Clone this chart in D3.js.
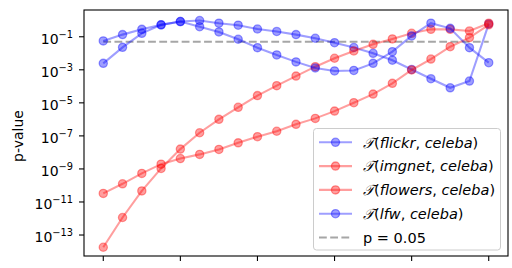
<!DOCTYPE html>
<html>
<head>
<meta charset="utf-8">
<script src="https://cdn.jsdelivr.net/npm/d3@7"></script>
<style>
  html, body { margin: 0; padding: 0; background: #fff; }
  svg { display: block; font-family: "DejaVu Sans", sans-serif; }
</style>
</head>
<body>
<div id="chart"></div>
<script>
// p-values per step (log10), 21 steps
const steps = d3.range(21);
const flickrLog = [-1.25, -0.87, -0.55, -0.28, -0.08, -0.02, -0.18, -0.30, -0.53, -0.68, -0.87, -1.09, -1.36, -1.65, -2.00, -2.42, -2.98, -3.54, -4.09, -3.68, -0.22];
const imgnetLog = [-13.74, -11.94, -10.33, -8.97, -7.80, -6.81, -6.00, -5.27, -4.56, -3.96, -3.38, -2.81, -2.30, -1.86, -1.46, -1.13, -0.79, -0.55, -0.55, -0.65, -0.18];
const flowersLog = [-10.48, -9.90, -9.27, -8.71, -8.37, -8.12, -7.82, -7.42, -7.05, -6.72, -6.30, -5.94, -5.50, -4.99, -4.47, -3.82, -3.01, -2.35, -1.60, -1.05, -0.28];
const lfwLog = [-2.61, -1.64, -0.79, -0.28, -0.08, -0.39, -0.71, -1.15, -1.66, -2.10, -2.52, -2.89, -3.07, -3.04, -2.61, -1.90, -0.95, -0.18, -0.49, -1.66, -2.57];
const yTickExp = [-1, -3, -5, -7, -9, -11, -13];
const xTicks = [0, 4, 8, 12, 16, 20];
const threshold = 0.05;

const series = [
  { name: 'flickr', color: 'blue', logs: flickrLog },
  { name: 'imgnet', color: 'red', logs: imgnetLog },
  { name: 'flowers', color: 'red', logs: flowersLog },
  { name: 'lfw', color: 'blue', logs: lfwLog },
];

const W = 512, H = 268;
const margin = { left: 84, top: 10, right: 4, bottom: 12 };
const innerW = W - margin.left - margin.right;
const innerH = H - margin.top - margin.bottom;
const ALPHA = 0.38;

const svg = d3.select('#chart').append('svg')
  .attr('width', W).attr('height', H)
  .attr('viewBox', `0 0 ${W} ${H}`);
const g = svg.append('g').attr('transform', `translate(${margin.left},${margin.top})`);

const x = d3.scaleLinear().domain([-1, 21]).range([0, innerW]);
const y = d3.scaleLog().domain([Math.pow(10, -14.27), Math.pow(10, 0.62)]).range([innerH, 0]);

// threshold line
g.append('line')
  .attr('x1', x(0)).attr('x2', x(20))
  .attr('y1', y(threshold)).attr('y2', y(threshold))
  .attr('stroke', 'gray').attr('stroke-opacity', 0.7)
  .attr('stroke-width', 2.1).attr('stroke-dasharray', '7.8,3.4');

const line = d3.line().x((d) => x(d.i)).y((d) => y(d.p));

series.forEach((s) => {
  const pts = s.logs.map((v, i) => ({ i: steps[i], p: Math.pow(10, v) }));
  g.append('path').datum(pts)
    .attr('d', line)
    .attr('fill', 'none')
    .attr('stroke', s.color).attr('stroke-opacity', ALPHA)
    .attr('stroke-width', 2.1);
  g.append('g').selectAll('circle').data(pts).join('circle')
    .attr('cx', (d) => x(d.i)).attr('cy', (d) => y(d.p))
    .attr('r', 4.1)
    .attr('fill', s.color).attr('fill-opacity', ALPHA)
    .attr('stroke', s.color).attr('stroke-opacity', ALPHA)
    .attr('stroke-width', 1.3);
});

// frame
g.append('rect').attr('width', innerW).attr('height', innerH)
  .attr('fill', 'none').attr('stroke', '#000').attr('stroke-width', 1.1);

// x ticks, no labels
g.append('g').selectAll('line').data(xTicks).join('line')
  .attr('x1', (d) => x(d)).attr('x2', (d) => x(d))
  .attr('y1', innerH).attr('y2', innerH + 5)
  .attr('stroke', '#000').attr('stroke-width', 1.1);

// y ticks with 10^n labels
const yt = g.append('g').selectAll('g').data(yTickExp).join('g')
  .attr('transform', (d) => `translate(0,${y(Math.pow(10, d))})`);
yt.append('line').attr('x1', -5).attr('x2', 0).attr('stroke', '#000').attr('stroke-width', 1.1);
const lbl = yt.append('text').attr('x', -11).attr('text-anchor', 'end')
  .attr('fill', '#000').style('font-size', '14px');
lbl.append('tspan').attr('dy', 6.9).text('10');
lbl.append('tspan').attr('dy', -5.6).style('font-size', '9.8px').text((d) => '\u2212' + Math.abs(d));

// y label
svg.append('text')
  .attr('transform', `translate(23,${margin.top + innerH / 2 + 3}) rotate(-90)`)
  .attr('text-anchor', 'middle')
  .style('font-size', '14px')
  .text('p-value');

// legend
const legend = svg.append('g');
legend.append('rect')
  .attr('x', 313.5).attr('y', 128.5).attr('width', 187).attr('height', 121.5)
  .attr('rx', 3)
  .attr('fill', '#fff').attr('fill-opacity', 0.8)
  .attr('stroke', '#ccc').attr('stroke-width', 1);

const legendItems = series.map((s) => ({ color: s.color, name: s.name, dashed: false }))
  .concat([{ color: 'gray', name: 'p = 0.05', dashed: true }]);
const row = legend.selectAll('g.row').data(legendItems).join('g')
  .attr('class', 'row')
  .attr('transform', (d, i) => `translate(0,${142.3 + i * 23.8})`);
row.append('line').attr('x1', 319).attr('x2', 352)
  .attr('stroke', (d) => d.color)
  .attr('stroke-opacity', (d) => (d.dashed ? 0.7 : ALPHA))
  .attr('stroke-width', 2.1)
  .attr('stroke-dasharray', (d) => (d.dashed ? '7.8,3.4' : null));
row.filter((d) => !d.dashed).append('circle')
  .attr('cx', 335.5).attr('r', 4.1)
  .attr('fill', (d) => d.color).attr('fill-opacity', ALPHA)
  .attr('stroke', (d) => d.color).attr('stroke-opacity', ALPHA).attr('stroke-width', 1.3);
const txt = row.append('text').attr('x', 363).attr('dy', 5.2)
  .style('font-size', '14.5px').attr('fill', '#000');
txt.filter((d) => d.dashed).text((d) => d.name);
const mt = txt.filter((d) => !d.dashed);
mt.append('tspan').style('font-style', 'italic').text('\u{1D4AF}');
mt.append('tspan').text('(');
mt.append('tspan').style('font-style', 'italic').text((d) => d.name);
mt.append('tspan').text(', ');
mt.append('tspan').style('font-style', 'italic').text('celeba');
mt.append('tspan').text(')');
</script>
</body>
</html>
